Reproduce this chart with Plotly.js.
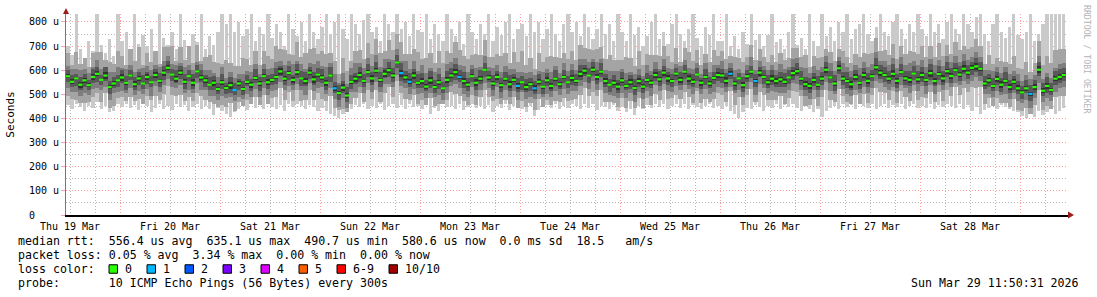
<!DOCTYPE html>
<html><head><meta charset="utf-8">
<script src="https://cdn.plot.ly/plotly-3.0.1.min.js"></script>
<style>html,body{margin:0;padding:0;background:#fff;}#chart{width:1097px;height:297px;}</style>
</head><body><div id="chart"></div>
<script>
// ---- data: one column per hour, starting Thu 19 Mar 2026 11:00 ----
const startUTC = Date.UTC(2026, 2, 19, 11, 0, 0);
const stepMs = 3600000;

// median rtt (microseconds)
const medianRtt = [
 575,552,566,540,558,538,572,585,560,578,530,545,558,
 570,548,578,542,566,545,572,550,580,556,590,610,582,565,590,552,575,548,595,570,558,540,548,522,
 550,526,538,518,545,522,552,540,568,545,575,550,560,572,595,565,588,560,592,566,555,590,562,582,
 570,548,578,525,505,528,495,552,565,580,556,592,566,598,560,585,600,578,632,588,570,552,578,548,
 555,532,558,530,550,525,560,578,592,572,555,540,575,548,565,602,570,545,572,538,565,542,560,535,
 550,530,542,525,552,532,558,535,565,542,572,550,568,556,585,598,578,602,572,594,555,540,548,532,
 558,535,550,526,555,532,560,548,580,562,590,566,555,586,560,594,565,552,582,548,572,545,568,580,
 578,556,585,545,566,538,575,594,555,590,572,550,565,555,562,552,570,588,596,565,542,535,560,540,
 565,602,570,545,608,565,555,542,572,548,580,556,575,612,590,580,565,585,556,592,566,560,586,562,
 580,560,588,555,584,566,596,576,600,582,606,590,610,616,606,545,558,535,564,540,556,530,552,525,
 508,525,502,530,602,515,535,518,565,572,580
];
// fastest ping of each column
const minRtt = [
 455,440,462,448,430,452,445,468,438,450,425,432,458,
 448,460,442,455,436,462,450,428,445,458,440,452,435,460,446,455,430,448,462,440,452,438,415,445,
 430,420,405,425,440,452,436,460,445,455,438,462,448,440,455,432,458,446,462,450,440,455,448,430,
 445,432,420,410,402,418,425,440,455,448,462,438,452,445,460,435,450,458,442,455,440,462,448,452,
 438,455,420,445,430,460,448,452,440,458,435,448,462,445,452,438,455,428,450,442,460,436,452,445,
 440,425,452,410,435,448,455,442,460,438,450,445,462,452,440,458,445,462,436,452,448,440,455,432,
 448,425,440,415,452,438,455,445,460,448,462,440,452,458,445,462,438,455,448,440,452,462,445,450,
 440,452,430,418,402,428,445,438,455,448,430,452,445,462,440,455,448,460,445,432,452,440,425,438,
 405,430,445,452,438,460,448,455,440,462,450,445,458,438,452,460,445,455,448,462,440,452,458,445,
 452,445,460,440,455,448,462,452,445,458,440,455,430,448,420,435,445,452,440,455,448,438,430,425,
 410,400,418,405,430,415,425,440,420,432,445
];
// slowest ping of each column (840 = beyond the top of the graph)
const maxRtt = [
 700,665,840,690,650,720,680,840,705,670,730,660,840,
 720,760,690,840,710,745,700,770,680,840,735,705,760,690,840,725,700,750,715,840,690,740,705,760,
 840,790,840,760,800,740,770,840,720,780,750,840,735,790,760,700,840,770,740,800,720,840,760,730,
 780,840,750,800,840,770,730,840,790,750,810,840,760,780,720,840,790,760,840,770,800,740,840,765,
 760,840,730,790,750,720,840,770,740,800,710,840,760,730,790,750,840,720,780,745,800,840,730,770,
 790,740,840,760,800,730,770,840,750,720,790,840,760,800,740,840,780,730,770,840,750,790,720,840,
 760,720,840,745,780,700,740,800,840,730,760,710,790,840,750,720,770,840,735,700,780,745,840,720,
 720,840,700,740,690,760,710,840,725,750,700,745,840,715,730,690,760,840,705,735,690,840,720,700,
 840,740,780,720,800,760,840,730,770,790,840,750,720,780,840,760,740,800,840,770,730,790,760,840,
 770,740,840,760,790,730,800,840,770,750,840,790,760,820,840,750,720,790,840,760,735,780,840,745,
 730,760,840,720,750,790,840,840,840,840,840
];
// distances of the 2nd fastest / 2nd slowest ping from the median
const d2lo = [
 80,72,88,76,92,70,84,78,90,74,86,95,72,82,76,88,70,84,92,78,74,86,80,90,
 76,84,70,92,80,86,74,90,78,82,70,88,76,94,80,72,86,78,90,74,84,80,92,76,
 88,76,82,70,90,78,86,74,92,80,72,84,78,90,76,86,82,70,88,76,94,80,74,86,
 72,86,80,92,78,70,88,76,84,90,74,82,86,78,92,72,80,88,76,84,70,90,78,82,
 84,78,92,74,86,80,72,90,76,88,82,70,94,78,84,76,90,72,86,80,78,92,74,88,
 78,90,74,86,72,84,92,80,76,88,70,82,86,74,90,78,84,72,88,76,92,80,86,74,
 86,72,90,78,84,76,88,70,82,92,78,86,74,80,88,72,90,76,84,78,70,88,82,76,
 74,88,80,70,92,84,76,86,72,90,80,78,88,74,82,92,76,84,70,86,80,74,90,78,
 90,76,84,82,74,88,70,92,80,78,86,72,84,90,76,80,88,74,92,78,84,70,86,80,
 82,78,90,74,86,72,88,80,76,92,84,70,88,76,82,90,74,86,78,84,92,76,80,88
];
const d2hi = [
 95,70,110,85,125,75,100,90,115,65,105,80,120,88,72,110,95,130,78,100,85,118,70,105,
 88,120,75,105,92,130,80,110,68,98,125,85,108,76,115,90,100,72,128,95,82,112,78,104,
 110,85,128,95,118,80,105,125,90,115,100,130,86,108,120,94,112,78,122,100,88,116,105,92,
 120,100,130,110,95,125,105,118,130,98,115,108,126,92,120,112,100,128,106,118,95,124,110,102,
 105,90,118,100,125,85,110,96,120,105,88,115,100,128,92,110,82,118,104,96,122,90,108,100,
 98,112,86,120,95,108,80,116,102,90,125,94,110,86,118,100,92,124,88,106,115,84,98,112,
 92,80,105,75,98,110,85,100,72,95,88,115,80,102,90,76,108,86,96,78,112,88,100,82,
 85,100,78,110,92,82,105,96,88,120,80,98,112,90,84,106,95,78,115,100,86,94,108,90,
 110,95,120,88,105,98,125,92,110,100,118,90,105,122,96,112,100,128,94,108,90,115,102,96,
 100,88,112,95,80,105,92,85,100,78,94,108,86,98,110,90,102,118,105,125,112,120,115,110
];
// 3rd fastest / 3rd slowest
const d3lo = [
 48,42,55,45,52,40,50,58,44,47,53,41,49,56,43,51,46,54,42,50,57,45,48,52,
 45,52,40,50,47,56,43,49,54,41,48,53,46,58,42,50,45,55,40,49,52,44,57,47,
 52,46,56,42,49,54,44,51,47,58,43,50,55,41,48,53,46,57,44,50,42,55,48,51,
 44,55,48,52,41,57,46,50,53,42,49,56,45,51,47,54,40,52,48,56,43,50,46,54,
 50,43,53,47,56,44,51,41,55,48,52,45,57,42,49,54,46,50,43,55,48,52,44,50,
 47,54,42,51,45,57,48,52,44,50,41,55,46,53,49,43,56,47,51,45,54,42,50,48,
 53,45,50,44,56,42,49,54,46,51,43,57,48,52,45,55,41,50,47,53,44,56,49,46,
 46,52,44,57,48,51,43,55,47,50,54,42,53,46,49,56,45,51,44,52,48,55,43,50,
 51,47,56,43,50,45,54,48,52,41,55,46,50,44,57,49,53,45,48,51,46,54,42,52,
 48,53,45,50,42,56,47,51,44,55,49,46,52,43,50,58,46,54,48,52,45,55,47,51
];
const d3hi = [
 42,55,38,60,47,52,40,58,45,36,62,48,54,41,57,44,50,38,63,46,53,40,59,48,
 50,44,58,40,62,47,54,38,56,45,60,42,51,64,43,55,48,39,61,46,52,57,41,49,
 55,48,63,45,58,52,66,47,60,50,42,62,55,46,64,51,58,44,60,49,56,63,48,53,
 60,52,66,55,62,48,64,58,50,68,54,61,47,65,56,52,63,58,49,66,55,60,51,62,
 54,46,61,50,57,44,63,48,56,52,65,47,58,43,60,51,55,46,62,49,57,53,45,60,
 48,56,44,60,50,58,46,62,52,45,57,49,64,47,55,42,59,51,46,61,50,54,43,57,
 45,52,40,57,48,43,55,50,38,58,46,53,42,60,49,44,56,41,52,47,59,44,50,46,
 50,58,47,62,53,45,60,55,48,66,52,57,63,49,56,61,51,46,64,58,53,49,60,55,
 58,52,64,50,60,55,66,53,62,57,68,51,59,63,55,60,65,57,52,64,58,61,54,62,
 52,46,58,48,55,44,60,50,47,57,53,45,61,49,56,63,52,58,50,54,48,46,55,52
];
// 4th fastest / 4th slowest
const d4lo = [
 25,20,30,22,28,18,26,32,21,24,29,19,27,23,31,20,25,28,22,30,19,26,24,29,
 22,28,19,26,31,21,25,29,18,27,23,30,20,26,24,32,21,28,25,19,27,22,30,24,
 28,23,31,20,26,29,22,25,30,19,27,24,32,21,28,25,20,29,23,26,31,22,27,24,
 21,27,24,30,19,26,28,22,31,25,20,29,23,27,18,30,24,26,21,28,25,32,22,27,
 26,22,29,24,31,20,27,23,28,25,30,21,26,32,22,28,24,19,29,25,23,30,21,27,
 24,29,21,27,23,30,25,28,20,26,31,22,28,24,19,27,30,23,25,29,21,26,28,22,
 29,24,27,21,30,25,22,28,26,32,20,27,23,29,25,21,28,24,30,22,27,25,20,28,
 23,28,25,31,22,27,29,20,26,24,30,25,21,28,27,23,31,22,26,29,24,20,27,25,
 27,21,30,25,28,23,26,31,22,29,24,27,20,30,25,28,22,26,29,23,31,25,28,21,
 25,30,22,28,24,29,21,27,30,23,26,32,24,28,21,30,25,27,23,29,22,28,24,26
];
const d4hi = [
 24,30,20,34,26,22,32,28,19,35,25,29,21,33,27,23,31,26,36,22,28,24,32,27,
 28,22,35,26,31,24,38,27,30,21,34,29,25,36,23,32,27,20,33,28,24,37,26,30,
 30,26,36,24,33,28,22,35,29,38,25,31,27,34,24,37,28,32,26,35,30,23,34,29,
 34,28,38,31,26,36,30,33,40,27,35,29,37,32,28,39,31,35,27,36,30,33,29,38,
 28,32,25,36,30,27,34,24,31,29,37,26,33,28,35,25,30,34,27,32,29,36,26,31,
 26,31,28,35,24,30,33,27,36,29,25,32,28,34,26,30,37,25,31,28,33,27,35,29,
 25,29,22,33,27,24,31,26,20,34,28,23,30,26,32,24,29,21,33,27,25,30,23,28,
 29,35,27,32,38,30,26,36,31,28,34,30,37,29,33,27,35,32,28,36,31,29,34,30,
 33,28,37,30,35,32,39,29,34,31,38,30,36,33,29,37,32,35,30,38,33,31,36,34,
 30,26,34,28,31,25,33,29,27,35,30,24,32,28,34,36,29,33,31,35,27,30,33,31
];
// half spread of the two middle pings (5th/6th)
const h5 = [
 8,11,6,13,9,7,12,10,5,14,8,11,7,13,9,6,12,10,8,14,7,11,9,12,
 10,7,13,9,11,6,14,8,12,10,7,13,9,11,8,14,6,12,10,9,13,7,11,8,
 12,9,7,14,10,8,13,11,6,12,9,15,8,10,13,7,11,9,14,10,8,12,11,9,
 9,13,11,8,15,10,12,7,14,9,11,13,8,12,10,14,9,11,7,13,10,12,8,11,
 11,8,14,10,7,12,9,13,11,8,14,10,12,7,11,9,13,10,8,12,14,9,11,10,
 7,12,9,11,13,8,10,14,9,12,7,11,13,10,8,12,9,14,11,7,10,13,9,12,
 13,10,8,12,9,14,11,7,13,10,12,8,11,9,14,10,12,8,13,11,9,10,12,8,
 10,14,12,9,11,7,13,10,8,12,11,14,9,10,13,8,11,12,10,9,14,11,8,13,
 12,9,11,13,8,10,14,12,9,11,13,7,10,12,9,14,11,8,13,10,12,9,11,14,
 9,11,13,8,12,10,7,11,14,9,12,10,13,8,11,9,12,14,10,13,8,11,12,10
];
// columns where 1 of 10 pings was lost
const loss1Cols = [40,64,80,82,94,108,112,159,165,231];

const dayLabels = ['Thu 19 Mar','Fri 20 Mar','Sat 21 Mar','Sun 22 Mar','Mon 23 Mar','Tue 24 Mar','Wed 25 Mar','Thu 26 Mar','Fri 27 Mar','Sat 28 Mar'];
const lossLabels = ['0','1','2','3','4','5','6-9','10/10'];
const lossColors = ['#26ff00','#00b8ff','#0059ff','#7e00ff','#dd00ff','#ff5f00','#ff0000','#a10000'];
const smokeColors = ['#cacaca','#a4a4a4','#7e7e7e','#585858','#323232'];
const yTickVals = [0,100,200,300,400,500,600,700,800];
const yTickText = ['0\u00a0\u00a0\u00a0\u00a0','100 u','200 u','300 u','400 u','500 u','600 u','700 u','800 u'];
const yMinorVals = [50,150,250,350,450,550,650,750];

const legendLines = [
 'median rtt:  556.4 us avg  635.1 us max  490.7 us min  580.6 us now  0.0 ms sd  18.5   am/s',
 'packet loss: 0.05 % avg  3.34 % max  0.00 % min  0.00 % now',
 'loss color:',
 'probe:       10 ICMP Echo Pings (56 Bytes) every 300s'
];
const stampText = 'Sun Mar 29 11:50:31 2026';
const watermark = 'RRDTOOL / TOBI OETIKER';

// ---- build ----
const iso = ms => new Date(ms).toISOString().replace('T',' ').replace('Z','');
const n = medianRtt.length;
const xs = [];
for (let i = 0; i < n; i++) xs.push(iso(startUTC + (i + 0.5) * stepMs));

const bands = [
 [minRtt.slice(), maxRtt.slice()],
 [medianRtt.map((m,i)=>Math.max(minRtt[i], m - d2lo[i])), medianRtt.map((m,i)=>Math.min(maxRtt[i], m + d2hi[i]))],
 [medianRtt.map((m,i)=>m - d3lo[i]), medianRtt.map((m,i)=>m + d3hi[i])],
 [medianRtt.map((m,i)=>m - d4lo[i]), medianRtt.map((m,i)=>m + d4hi[i])],
 [medianRtt.map((m,i)=>m - h5[i]), medianRtt.map((m,i)=>m + h5[i])]
];
const bandWidths = [0.8, 1, 1, 1, 1];

const traces = bands.map((b, k) => ({
 type: 'bar', x: xs, base: b[0], y: b[1].map((v,i)=>v - b[0][i]),
 width: stepMs * bandWidths[k], marker: {color: smokeColors[k], line: {width: 0}},
 hoverinfo: 'skip', showlegend: false
}));

const medColors = medianRtt.map((v,i)=> loss1Cols.includes(i) ? lossColors[1] : lossColors[0]);
traces.push({
 type: 'scatter', mode: 'markers', x: xs, y: medianRtt, xaxis: 'x2', yaxis: 'y2',
 marker: {symbol: 'line-ew', size: 3, color: medColors, line: {width: 2.2, color: medColors}},
 hoverinfo: 'skip', showlegend: false
});

const xRange = [iso(Date.UTC(2026,2,19,11,2,24)), iso(Date.UTC(2026,2,29,11,31,12))];
const yRange = [0, 833];
const midnights = [], sixHours = [];
for (let d = 0; d < 10; d++) midnights.push(iso(Date.UTC(2026,2,20+d)));
for (let d = 0; d < 11; d++) for (const hh of [6,12,18]) sixHours.push(iso(Date.UTC(2026,2,19+d,hh)));

const L = 66, R = 1068, T = 14, B = 215;
const px = v => (v - L) / (R - L);
const py = v => (B - v) / (B - T);

const mono = 'DejaVu Sans Mono';
const annotations = [];
const shapes = [];
const lineY = [241, 255, 269, 283];
legendLines.forEach((t, i) => annotations.push({
 xref:'paper', yref:'paper', x: px(16), y: py(lineY[i]), xanchor:'left', yanchor:'middle',
 text: t.replace(/ /g,'\u00a0'), showarrow:false, font:{family:mono, size:11.6, color:'#000'}
}));
annotations.push({xref:'paper', yref:'paper', x: px(1081), y: py(283), xanchor:'right', yanchor:'middle',
 text: stampText.replace(/ /g,'\u00a0'), showarrow:false, font:{family:mono, size:11.6, color:'#000'}});
annotations.push({xref:'paper', yref:'paper', x: px(1087), y: py(59), xanchor:'center', yanchor:'middle',
 text: watermark.replace(/ /g,'\u00a0'), textangle: 90, showarrow:false, font:{family:mono, size:8.2, color:'#b4b4b4'}});

let bx = 109;
lossLabels.forEach((lab, i) => {
 shapes.push({type:'rect', xref:'paper', yref:'paper', x0: px(bx), x1: px(bx+8.5), y0: py(273.25), y1: py(264.75),
  fillcolor: lossColors[i], line:{color:'#000', width:1}});
 const tx = bx + 14;
 annotations.push({xref:'paper', yref:'paper', x: px(tx), y: py(269), xanchor:'left', yanchor:'middle',
  text: lab, showarrow:false, font:{family:mono, size:11.6, color:'#000'}});
 bx = tx + lab.length * 7.0 + 17;
});

// axis arrows
shapes.push({type:'path', xref:'paper', yref:'paper', fillcolor:'#9b1c1c', line:{width:0},
 path:`M ${px(63)},${py(14)} L ${px(69)},${py(14)} L ${px(66)},${py(8)} Z`});
shapes.push({type:'path', xref:'paper', yref:'paper', fillcolor:'#9b1c1c', line:{width:0},
 path:`M ${px(1068)},${py(211.5)} L ${px(1068)},${py(218.5)} L ${px(1074)},${py(215)} Z`});

const gridRed = 'rgba(255,95,95,0.6)';
const gridGray = 'rgba(160,160,160,0.75)';
const dash = '1px,2px';

const layout = {
 width: 1097, height: 297,
 margin: {l: L, r: 1097 - R, t: T, b: 297 - B, pad: 0},
 paper_bgcolor: '#fff', plot_bgcolor: '#fff',
 barmode: 'overlay', bargap: 0, showlegend: false,
 font: {family: mono, size: 10, color: '#000'},
 xaxis: {type:'date', range: xRange, tickmode:'array', tickvals: midnights, ticktext: dayLabels,
  ticklabelshift: -50, ticks:'outside', ticklen: 1, tickcolor:'rgba(0,0,0,0)',
  tickfont:{family:mono, size:10, color:'#000'},
  showgrid:true, gridcolor: gridRed, griddash: dash, gridwidth:1,
  showline:true, linecolor:'#000', linewidth:2, zeroline:false, fixedrange:true},
 xaxis2: {type:'date', overlaying:'x', anchor:'y', range: xRange, tickmode:'array', tickvals: sixHours,
  showticklabels:false, ticks:'', showgrid:true, gridcolor: gridGray, griddash: dash, gridwidth:1,
  showline:false, zeroline:false, fixedrange:true},
 yaxis: {range: yRange, tickmode:'array', tickvals: yTickVals, ticktext: yTickText,
  showgrid:true, gridcolor: gridRed, griddash: dash, gridwidth:1,
  showline:true, linecolor:'#777', linewidth:1, ticks:'outside', ticklen:4, tickcolor: gridRed,
  tickfont:{family:mono, size:10, color:'#000'}, zeroline:false, fixedrange:true, automargin:false,
  title:{text:'Seconds', font:{family:mono, size:11, color:'#000'}, standoff: 12}},
 yaxis2: {range: yRange, overlaying:'y', anchor:'x', tickmode:'array', tickvals: yMinorVals,
  showticklabels:false, ticks:'', showgrid:true, gridcolor: gridGray, griddash: dash, gridwidth:1,
  showline:false, zeroline:false, fixedrange:true},
 annotations, shapes
};

Plotly.newPlot('chart', traces, layout, {staticPlot:true, displayModeBar:false});
</script>
</body></html>
